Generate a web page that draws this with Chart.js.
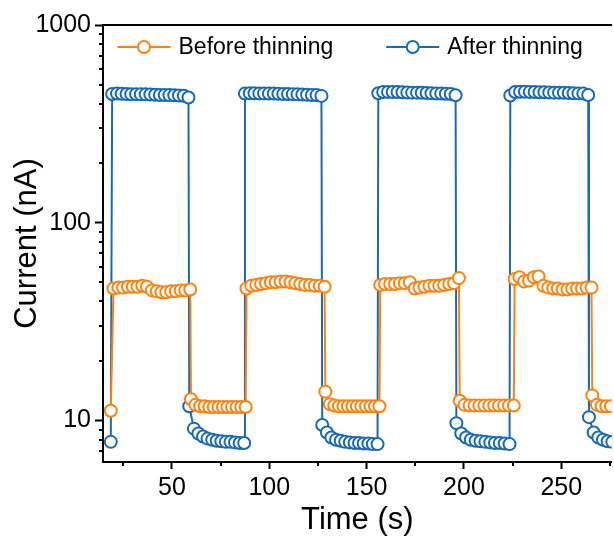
<!DOCTYPE html>
<html>
<head>
<meta charset="utf-8">
<script src="https://cdn.jsdelivr.net/npm/chart.js@4"></script>
<style>
  body { margin: 0; background: #fff; overflow: hidden; }
  canvas { display: block; }
</style>
</head>
<body>
<canvas id="chart" width="614" height="536"></canvas>
<script>
// temps (s) et courant (nA) - echantillon avant amincissement
var timeBefore = [18.6,
  20.0, 22.5, 24.9, 27.4, 29.9, 32.3, 34.8, 37.2, 39.7, 42.2, 44.6, 47.1, 49.6, 52.0, 54.5, 56.9, 59.4,
  59.8, 62.1, 64.5, 66.8, 69.2, 71.5, 73.9, 76.2, 78.5, 80.9, 83.2, 85.6, 87.9,
  88.3, 90.8, 93.3, 95.8, 98.3, 100.8, 103.3, 105.8, 108.4, 110.9, 113.4, 115.9, 118.4, 120.9, 123.4, 125.9, 128.4,
  128.8, 131.1, 133.4, 135.8, 138.1, 140.4, 142.7, 145.0, 147.3, 149.7, 152.0, 154.3, 156.6,
  157.0, 159.5, 162.1, 164.6, 167.1, 169.6, 172.2, 174.7, 177.2, 179.7, 182.3, 184.8, 187.3, 189.8, 192.4, 194.9, 197.4,
  197.8, 200.3, 202.9, 205.4, 207.9, 210.5, 213.0, 215.5, 218.0, 220.6, 223.1, 225.6,
  226.0, 228.5, 230.9, 233.4, 235.9, 238.3, 240.8, 243.3, 245.8, 248.2, 250.7, 253.2, 255.6, 258.1, 260.6, 263.0, 265.5,
  265.9, 268.3, 270.7, 273.1, 275.5];
var currentBefore = [11.2,
  46.5, 47, 47, 47.5, 47.5, 47.5, 48, 47.5, 45.5, 45, 44.5, 44.5, 45, 45, 45.5, 45.5, 46,
  12.8, 12.0, 11.8, 11.8, 11.7, 11.7, 11.7, 11.7, 11.7, 11.7, 11.7, 11.7, 11.7,
  46.5, 48, 48.5, 49, 49.5, 50, 50, 50.5, 50.5, 50, 49.5, 49, 48.5, 48.5, 48, 48, 47.5,
  14, 12.1, 11.9, 11.8, 11.8, 11.8, 11.8, 11.8, 11.8, 11.8, 11.8, 11.8, 11.8,
  48.5, 49, 49, 49, 49.5, 49.5, 50, 46.5, 47, 47.5, 48, 48, 48, 48.5, 49, 49.5, 52.5,
  12.6, 12.0, 11.9, 11.9, 11.9, 11.9, 11.9, 11.9, 11.9, 11.9, 11.9, 11.9,
  52, 53, 50.5, 51, 53, 53.5, 48, 47, 46.5, 46.5, 46, 46, 46.5, 46.5, 46.5, 47, 47,
  13.4, 12.0, 11.8, 11.8, 11.8];

// apres amincissement
var timeAfter = [18.6,
  19.3, 21.8, 24.2, 26.7, 29.1, 31.6, 34.0, 36.5, 38.9, 41.4, 43.8, 46.3, 48.7, 51.2, 53.6, 56.1, 58.5,
  58.9, 61.3, 63.6, 66.0, 68.3, 70.7, 73.0, 75.4, 77.7, 80.1, 82.4, 84.8, 87.1,
  87.5, 90.0, 92.4, 94.9, 97.3, 99.8, 102.3, 104.7, 107.2, 109.6, 112.1, 114.5, 117.0, 119.4, 121.9, 124.3, 126.8,
  127.2, 129.6, 131.9, 134.3, 136.7, 139.0, 141.4, 143.8, 146.1, 148.5, 150.9, 153.2, 155.6,
  156.0, 158.5, 161.0, 163.4, 165.9, 168.4, 170.9, 173.4, 175.9, 178.3, 180.8, 183.3, 185.8, 188.3, 190.7, 193.2, 195.7,
  196.1, 198.6, 201.1, 203.5, 206.0, 208.5, 211.0, 213.5, 215.9, 218.4, 220.9, 223.4,
  223.8, 226.3, 228.8, 231.3, 233.8, 236.3, 238.8, 241.3, 243.8, 246.3, 248.8, 251.3, 253.8, 256.3, 258.8, 261.3, 263.8,
  264.2, 266.6, 269.0, 271.4, 273.8, 276.2];
var currentAfter = [7.8,
  448, 450, 449, 448, 447, 447, 446, 446, 445, 444, 443, 443, 442, 441, 440, 439, 430,
  11.8, 9.1, 8.6, 8.3, 8.1, 8.0, 7.9, 7.85, 7.8, 7.8, 7.75, 7.7, 7.7,
  450, 452, 452, 451, 451, 450, 450, 449, 448, 448, 447, 446, 445, 444, 443, 442, 438,
  9.5, 8.7, 8.2, 8.0, 7.9, 7.8, 7.75, 7.7, 7.7, 7.65, 7.65, 7.6, 7.6,
  452, 458, 459, 458, 458, 457, 456, 455, 455, 454, 453, 452, 451, 450, 449, 448, 441,
  9.7, 8.6, 8.2, 8.0, 7.9, 7.85, 7.8, 7.75, 7.7, 7.7, 7.65, 7.6,
  440, 458, 460, 460, 459, 458, 457, 457, 456, 455, 455, 454, 453, 452, 451, 450, 443,
  10.4, 8.7, 8.2, 8.0, 7.85, 7.8];

var xTicks = [25, 50, 75, 100, 125, 150, 175, 200, 225, 250, 275];
var xLabels = [50, 100, 150, 200, 250];
var yTicks = [7, 8, 9, 10, 20, 30, 40, 50, 60, 70, 80, 90, 100, 200, 300, 400, 500, 600, 700, 800, 900, 1000];
var yLabels = [10, 100, 1000];

var seriesNames = ['Before thinning', 'After thinning'];
var colorBefore = '#ff8210';
var colorAfter = '#176ab3';

var FONT = '"Liberation Sans", Arial, sans-serif';
var X_MIN = 14.6, X_MAX = 275.9;
var Y_MIN = 6.17, Y_MAX = 1000;

function toPoints(xs, ys) {
  return xs.map(function (x, i) { return { x: x, y: ys[i] }; });
}

function isMajorX(v) { return xLabels.indexOf(v) >= 0; }
function isMajorY(v) { return yLabels.indexOf(v) >= 0; }

// petits ticks (mineurs) plus courts que les majeurs
const minorTicks = {
  id: 'minorTicks',
  afterDraw: function (chart) {
    var ctx = chart.ctx, area = chart.chartArea;
    var sx = chart.scales.x, sy = chart.scales.y;
    ctx.save();
    ctx.strokeStyle = '#000';
    ctx.lineWidth = 2;
    ctx.beginPath();
    sx.ticks.forEach(function (t) {
      if (isMajorX(t.value)) return;
      var px = Math.round(sx.getPixelForValue(t.value));
      ctx.moveTo(px, area.bottom);
      ctx.lineTo(px, area.bottom + 4);
    });
    sy.ticks.forEach(function (t) {
      if (isMajorY(t.value)) return;
      var py = Math.round(sy.getPixelForValue(t.value));
      ctx.moveTo(area.left, py);
      ctx.lineTo(area.left - 4, py);
    });
    ctx.stroke();
    ctx.restore();
  }
};

// legende dans le cadre : trait + cercle + texte
const lineLegend = {
  id: 'lineLegend',
  afterDraw: function (chart) {
    var ctx = chart.ctx, area = chart.chartArea;
    var x = area.left + 14.5;
    var y = area.top + 22;
    ctx.save();
    ctx.font = '23px ' + FONT;
    ctx.textBaseline = 'middle';
    chart.data.datasets.forEach(function (ds) {
      ctx.strokeStyle = ds.borderColor;
      ctx.lineWidth = 2;
      ctx.beginPath();
      ctx.moveTo(x, y);
      ctx.lineTo(x + 53, y);
      ctx.stroke();
      ctx.beginPath();
      ctx.arc(x + 26.5, y, ds.pointRadius, 0, Math.PI * 2);
      ctx.fillStyle = '#fff';
      ctx.fill();
      ctx.lineWidth = ds.pointBorderWidth;
      ctx.stroke();
      ctx.fillStyle = '#000';
      ctx.fillText(ds.label, x + 61, y + 1);
      x += 61 + ctx.measureText(ds.label).width + 53;
    });
    ctx.restore();
  }
};

function makeDataset(label, xs, ys, color) {
  return {
    label: label,
    data: toPoints(xs, ys),
    borderColor: color,
    borderWidth: 2,
    pointRadius: 6,
    pointBorderWidth: 2,
    pointBackgroundColor: '#fff',
    pointBorderColor: color,
    tension: 0
  };
}

const myChart = new Chart(document.getElementById('chart'), {
  type: 'line',
  data: {
    datasets: [
      makeDataset(seriesNames[0], timeBefore, currentBefore, colorBefore),
      makeDataset(seriesNames[1], timeAfter, currentAfter, colorAfter)
    ]
  },
  options: {
    responsive: false,
    animation: false,
    layout: { autoPadding: false, padding: { top: 25, right: 0, left: 0, bottom: 0 } },
    plugins: {
      legend: { display: false },
      tooltip: { enabled: false }
    },
    scales: {
      x: {
        type: 'linear',
        min: X_MIN,
        max: X_MAX,
        afterBuildTicks: function (scale) {
          scale.ticks = xTicks.map(function (v) { return { value: v }; });
        },
        afterFit: function (scale) { scale.height = 74; },
        ticks: {
          autoSkip: false,
          maxRotation: 0,
          padding: 4,
          color: '#000',
          font: { family: FONT, size: 25 },
          callback: function (v) { return isMajorX(v) ? String(v) : ''; }
        },
        grid: {
          drawOnChartArea: false,
          tickLength: 7,
          tickWidth: 2,
          tickColor: function (c) { return c.tick && isMajorX(c.tick.value) ? '#000' : 'rgba(0,0,0,0)'; }
        },
        border: { display: true, color: '#000', width: 2 },
        title: {
          display: true,
          text: 'Time (s)',
          color: '#000',
          font: { family: FONT, size: 31, lineHeight: 1 },
          padding: { top: 0, bottom: 0 }
        }
      },
      x2: {
        type: 'linear',
        position: 'top',
        min: X_MIN,
        max: X_MAX,
        afterFit: function (scale) { scale.height = 0; },
        ticks: { display: false },
        grid: { display: false },
        border: { display: true, color: '#000', width: 2 }
      },
      y: {
        type: 'logarithmic',
        min: Y_MIN,
        max: Y_MAX,
        afterBuildTicks: function (scale) {
          scale.ticks = yTicks.map(function (v) { return { value: v }; });
        },
        afterFit: function (scale) { scale.width = 103; },
        ticks: {
          autoSkip: false,
          padding: 4,
          color: '#000',
          font: { family: FONT, size: 25 },
          callback: function (v) { return isMajorY(v) ? String(v) : ''; }
        },
        grid: {
          drawOnChartArea: false,
          tickLength: 8,
          tickWidth: 2,
          tickColor: function (c) { return c.tick && isMajorY(c.tick.value) ? '#000' : 'rgba(0,0,0,0)'; }
        },
        border: { display: true, color: '#000', width: 2 },
        title: {
          display: true,
          text: 'Current (nA)',
          color: '#000',
          font: { family: FONT, size: 31, lineHeight: 1 },
          padding: { top: 12, bottom: 0 }
        }
      }
    }
  },
  plugins: [minorTicks, lineLegend]
});
</script>
</body>
</html>
